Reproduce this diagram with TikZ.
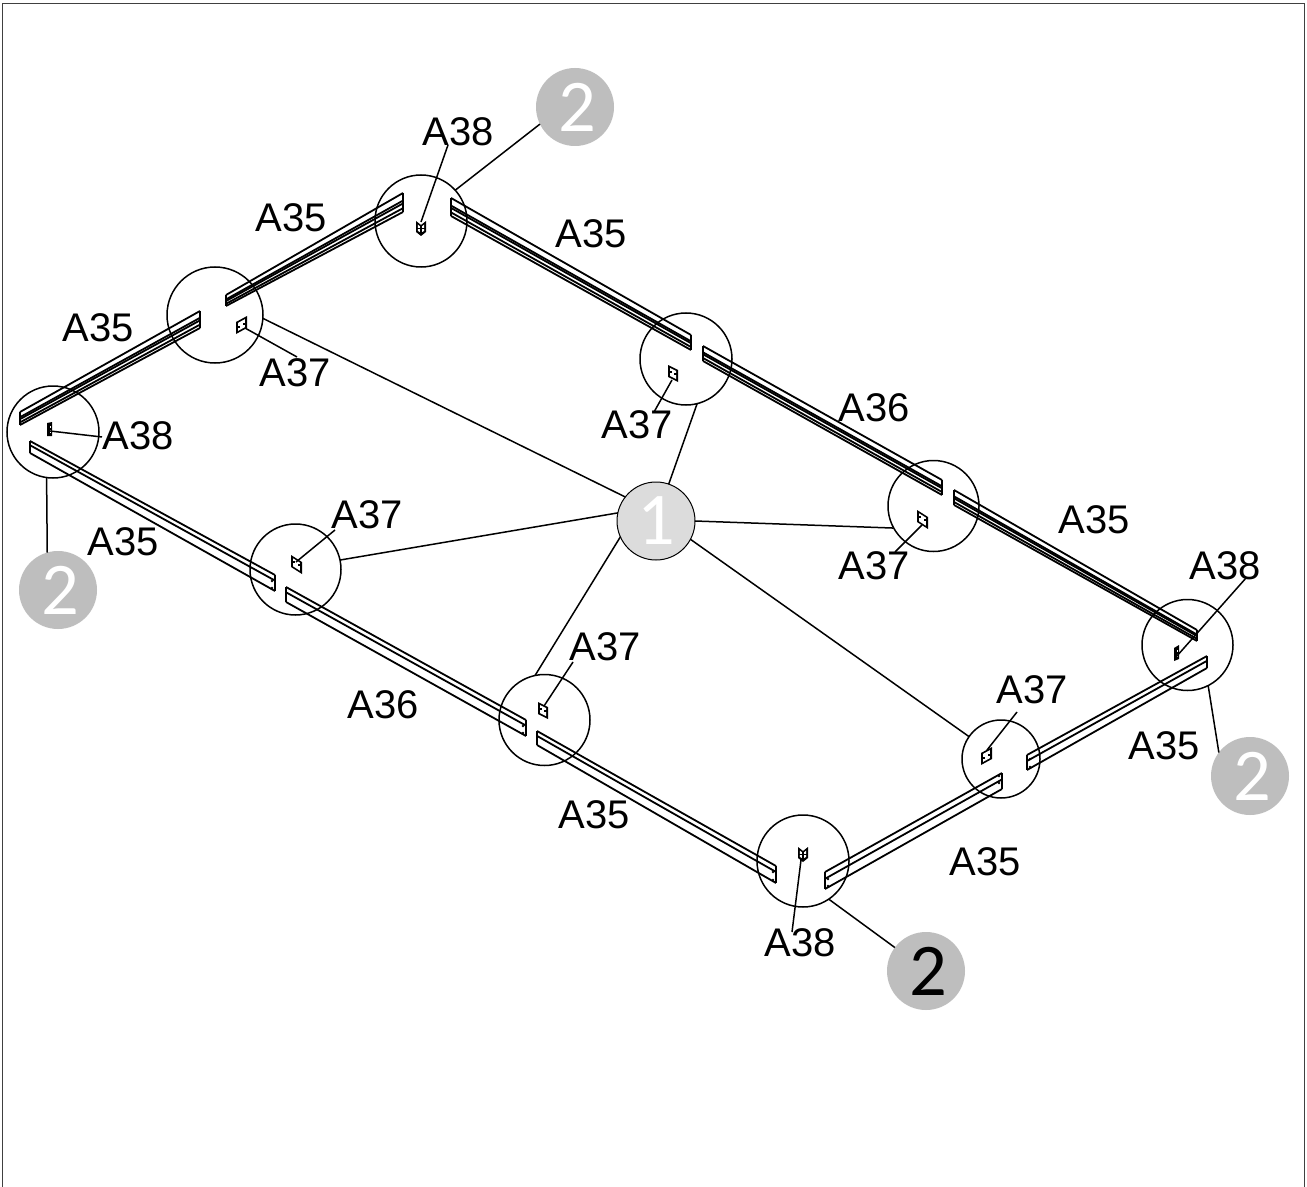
\documentclass[tikz,border=0pt]{standalone}
\usepackage{fontspec}
\setmainfont{Liberation Sans}
\newfontfamily\balloonfont{Carlito}
\usetikzlibrary{calc}
\definecolor{balA}{HTML}{DCDCDC}
\definecolor{balB}{HTML}{BEBEBE}
% x1,y1,x2,y2,height at end 1,height at end 2,line fractions
\newcommand{\beamlines}[7]{%
  \fill[white] (#1,#2) -- (#3,#4) -- (#3,#4+#6) -- (#1,#2+#5) -- cycle;
  \foreach \f in {#7} {\draw[beamline] ({#1},{#2+\f*#5}) -- ({#3},{#4+\f*#6});}
  \draw[beamline,line join=round] (#1,#2) -- (#1,#2+#5);
  \draw[beamline,line join=round] (#3,#4) -- (#3,#4+#6);
}
% flat plate: top-left corner, width, skew
\newcommand{\plate}[3]{%
  \begin{scope}[shift={(#1)}]
    \fill[black] (0,0) -- (#2,#3) -- (#2,#3+12) -- (0,12) -- cycle;
    \fill[white] (0.2*#2,0.2*#3+2) -- (0.8*#2,0.8*#3+2) -- (0.8*#2,0.8*#3+10) -- (0.2*#2,0.2*#3+10) -- cycle;
    \fill[black] (0.15*#2,0.15*#3+5) rectangle ++(0.25*#2,2);
    \fill[black] (0.6*#2,0.6*#3+5) rectangle ++(0.25*#2,2);
  \end{scope}
}
% folded bracket seen from the corner: top-left corner
\newcommand{\vplate}[1]{%
  \begin{scope}[shift={(#1)}]
    \fill[black] (0,0) -- (5,4) -- (10,0) -- (10,11) -- (5,15) -- (0,11) -- cycle;
    \fill[white] (1.8,3.5) -- (3.8,5.2) -- (3.8,6.8) -- (1.8,6.8) -- cycle;
    \fill[white] (8.2,3.5) -- (6.2,5.2) -- (6.2,6.8) -- (8.2,6.8) -- cycle;
    \fill[white] (1.8,8.2) -- (3.8,8.2) -- (3.8,11) -- (1.8,9.8) -- cycle;
    \fill[white] (8.2,8.2) -- (6.2,8.2) -- (6.2,11) -- (8.2,9.8) -- cycle;
  \end{scope}
}
% narrow plate seen nearly edge-on: top-left corner, skew
\newcommand{\edgeplate}[2]{%
  \begin{scope}[shift={(#1)}]
    \fill[black] (0,0) -- (5,#2) -- (5,#2+14) -- (0,13) -- cycle;
    \fill[white] (2.6,3+0.5*#2) rectangle (3.8,5.5+0.5*#2);
    \fill[white] (2.6,7.5+0.5*#2) rectangle (3.8,10+0.5*#2);
  \end{scope}
}
\tikzset{
  beamline/.style={line width=1.8*0.75bp,black},
  ring/.style={circle,draw=black,line width=1.5*0.75bp,inner sep=0pt,outer sep=0pt,minimum size=#1*0.75bp},
  leader/.style={line width=1.5*0.75bp,black},
  partlabel/.style={inner sep=0pt,xshift=0.4bp,yshift=-0.3bp,font=\fontsize{30.1}{36}\selectfont},
  balloon/.style={circle,inner sep=0pt,outer sep=0pt,minimum size=78*0.75bp,fill=balB,text=white,font=\balloonfont\fontsize{56}{60}\selectfont},
  hole/.style={black},
}
\begin{document}
\begin{tikzpicture}[x=0.75bp,y=-0.75bp]
\useasboundingbox (0,0) rectangle (1307,1187);
\fill[white] (0,0) rectangle (1307,1187);
\draw[line width=0.75bp,black!75] (2,1187) -- (2,4) -- (1304,4) -- (1304,1187);

% beams, upper run
\beamlines{226}{295}{403}{193}{11}{19}{0,0.4,0.55,0.8,1}
\beamlines{20}{412}{200}{311}{13}{17}{0,0.4,0.55,0.8,1}
\beamlines{451}{198}{691}{335}{18}{15}{0,0.42,0.55,0.8,1}
\beamlines{703}{346}{942}{480}{15}{15}{0,0.42,0.55,0.8,1}
\beamlines{954}{490}{1197}{630}{15}{11}{0,0.42,0.55,0.8,1}
% beams, lower run
\beamlines{1027}{755}{1207}{656}{15}{12}{0,0.4,1}
\beamlines{825}{872}{1002}{773}{17}{16}{0,0.4,1}
\beamlines{30}{441}{275}{575}{12}{16}{0,0.35,1}
\beamlines{286}{587}{526}{720}{15}{16}{0,0.35,1}
\beamlines{537}{731}{776}{866}{14}{17}{0,0.35,1}

% bolt holes at the beam ends
\foreach \p in {(773,872),(773,880),(828,879),(828,886),(999,776),(999,783),(1030,759),(1030,767),(272,581),(272,588),(523,726),(523,733)}
  \fill[hole] \p circle[radius=1.4];

% connection plates
\vplate{416,221}
\plate{236,322}{11}{-6}
\plate{668,365}{10}{5}
\edgeplate{47,423}{-1}
\plate{917,510}{11}{7}
\edgeplate{1174,648}{-3}
\plate{291,555}{11}{7}
\plate{538,702}{10}{5}
\plate{981,753}{11}{-6}
\vplate{798,847}

% circles
\node[ring=92] (c1) at (421,221) {};
\node[ring=96] (c2) at (215,315) {};
\node[ring=92] (c3) at (686,359) {};
\node[ring=92] (c4) at (53,432) {};
\node[ring=91] (c5) at (933.5,506) {};
\node[ring=91] (c6) at (1187.5,645) {};
\node[ring=91] (c7) at (295.5,569.5) {};
\node[ring=91] (c8) at (544.5,720) {};
\node[ring=78] (c9) at (1001,759) {};
\node[ring=92] (c10) at (803,861) {};

% balloons
\node[balloon,fill=balA,draw=black,line width=0.75bp] (one) at (656,521) {1};
\node[balloon] (twoA) at (575,107) {\hspace{3bp}2};
\node[balloon] (twoB) at (58,590) {\hspace{3bp}2};
\node[balloon] (twoC) at (1250,776) {\hspace{3bp}2};
\node[balloon,text=black] (twoD) at (926,971) {\hspace{3bp}2};

% balloon leaders
\draw[leader] (c2.-4) -- (one.142);
\draw[leader] (c3.-76) -- (one.71);
\draw[leader] (c5.209) -- (one.0);
\draw[leader] (c7.12) -- (one.168);
\draw[leader] (c8.102) -- (one.204);
\draw[leader] (c9.145) -- (one.-28.5);
\draw[leader] (c1.42) -- (twoA.206.6);
\draw[leader] (c4.262.6) -- (twoB.106.6);
\draw[leader] (c6.-63) -- (twoC.143.7);
\draw[leader] (c10.-56) -- (twoD.143.7);

% part labels
\node[partlabel] (l1) at (458,131) {A38};
\node[partlabel] (l2) at (291,217) {A35};
\node[partlabel] (l3) at (591,233) {A35};
\node[partlabel] (l4) at (98,327) {A35};
\node[partlabel] (l5) at (295,372) {A37};
\node[partlabel] (l6) at (138,435) {A38};
\node[partlabel] (l7) at (637,424) {A37};
\node[partlabel] (l8) at (874,407) {A36};
\node[partlabel] (l9) at (1094,519) {A35};
\node[partlabel] (l10) at (367,514) {A37};
\node[partlabel] (l11) at (874,565) {A37};
\node[partlabel] (l12) at (1225,565) {A38};
\node[partlabel] (l13) at (123,541) {A35};
\node[partlabel] (l14) at (605,646) {A37};
\node[partlabel] (l15) at (1032,689) {A37};
\node[partlabel] (l16) at (383,704) {A36};
\node[partlabel] (l17) at (1164,745) {A35};
\node[partlabel] (l18) at (594,814) {A35};
\node[partlabel] (l19) at (985,861) {A35};
\node[partlabel] (l20) at (800,942) {A38};

% label leader end points
\coordinate (p1) at (421,222);   \coordinate (e1) at (448,145);
\coordinate (p5) at (245,328);   \coordinate (e5) at (297,357);
\coordinate (p6) at (50,431);    \coordinate (e6) at (102,437);
\coordinate (p7) at (672,380);   \coordinate (e7) at (654,412);
\coordinate (p10) at (296,562);  \coordinate (e10) at (335,530);
\coordinate (p11) at (922,525);  \coordinate (e11) at (895,552);
\coordinate (p12) at (1176,657); \coordinate (e12) at (1246,578);
\coordinate (p14) at (544,706);  \coordinate (e14) at (573,662);
\coordinate (p15) at (987,750);  \coordinate (e15) at (1017,712);
\coordinate (p20) at (801,860);  \coordinate (e20) at (792,932);
\foreach \n in {1,5,6,7,10,11,12,14,15,20} {\draw[leader] (p\n) -- (e\n);}
\end{tikzpicture}
\end{document}
